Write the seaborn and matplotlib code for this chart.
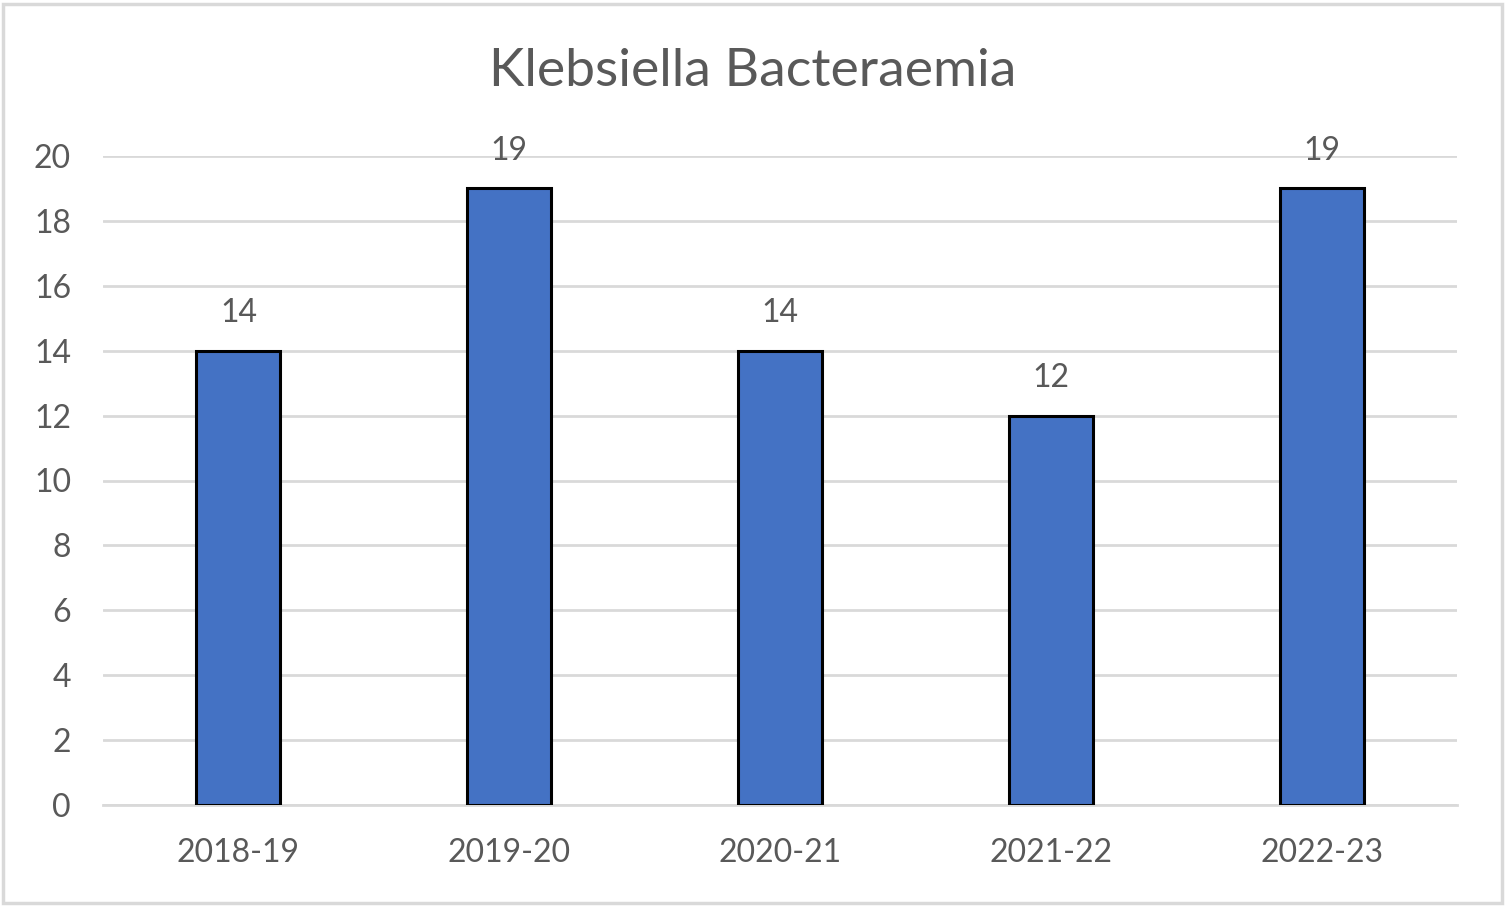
import matplotlib
matplotlib.use("Agg")
import matplotlib.pyplot as plt
import seaborn as sns
import pandas as pd
from matplotlib.patches import Rectangle

years = ["2018-19", "2019-20", "2020-21", "2021-22", "2022-23"]
cases = [14, 19, 14, 12, 19]
yticks = [0, 2, 4, 6, 8, 10, 12, 14, 16, 18, 20]
title = "Klebsiella Bacteraemia"

sns.set_theme(style="white")
plt.rcParams["font.family"] = ["Lato", "DejaVu Sans"]
text_color = "#595959"

df = pd.DataFrame({"year": years, "cases": cases})

W, H = 1506, 906
fig = plt.figure(figsize=(W / 100, H / 100), dpi=100)
ax = fig.add_axes([103 / W, 1 - 805 / H, (1457 - 103) / W, (805 - 156) / H])

sns.barplot(data=df, x="year", y="cases", ax=ax, color="#4472c4",
            saturation=1, width=0.31, edgecolor="black", linewidth=2.2, zorder=3)

ax.set_xlim(-0.5, len(years) - 0.5)
ax.set_ylim(0, 20)
ax.set_yticks(yticks)
ax.set_yticklabels([str(v) for v in yticks])
ax.yaxis.grid(True, color="#d9d9d9", linewidth=2, zorder=0)
ax.set_axisbelow(True)
for s in ["top", "right", "left"]:
    ax.spines[s].set_visible(False)
ax.spines["bottom"].set_color("#d9d9d9")
ax.spines["bottom"].set_linewidth(2)
ax.tick_params(axis="both", length=0, labelsize=23, colors=text_color)
ax.tick_params(axis="y", pad=23)
ax.tick_params(axis="x", pad=24)
ax.set_xlabel("")
ax.set_ylabel("")

for c in ax.containers:
    ax.bar_label(c, labels=[str(v) for v in cases], padding=16, fontsize=23, color=text_color)

fig.text(0.5, 1 - 72 / H, title, ha="center", va="center", fontsize=38.5, color=text_color)

fig.patches.append(Rectangle((3 / W, 3 / H), 1 - 7 / W, 1 - 7 / H, transform=fig.transFigure,
                             fill=False, edgecolor="#d9d9d9", linewidth=2.5))

fig.savefig("out.png", dpi=100, facecolor="white")
